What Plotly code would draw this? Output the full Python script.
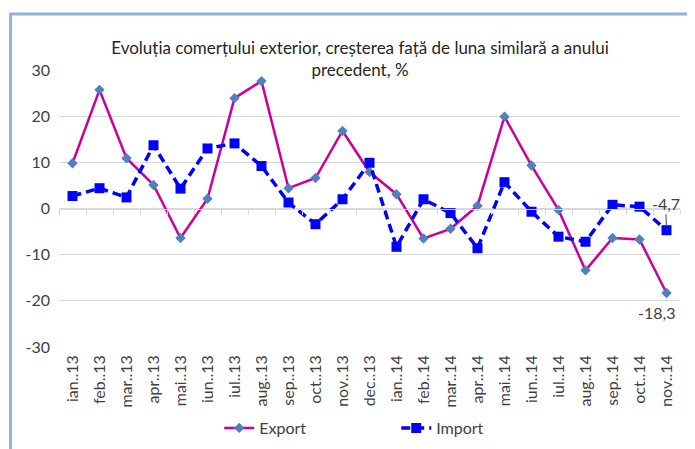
import plotly.graph_objects as go

# ==============================
# DATA
# ==============================
months = ["ian..13", "feb..13", "mar..13", "apr..13", "mai..13", "iun..13",
          "iul..13", "aug..13", "sep..13", "oct..13", "nov..13", "dec..13",
          "ian..14", "feb..14", "mar..14", "apr..14", "mai..14", "iun..14",
          "iul..14", "aug..14", "sep..14", "oct..14", "nov..14"]

export_vals = [9.8, 25.7, 10.9, 5.1, -6.4, 2.1, 23.9, 27.6, 4.4, 6.6, 16.8, 7.9,
               3.1, -6.5, -4.4, 0.6, 19.9, 9.3, -0.3, -13.4, -6.4, -6.7, -18.3]
import_vals = [2.7, 4.4, 2.4, 13.7, 4.3, 13.0, 14.1, 9.2, 1.3, -3.4, 2.0, 9.9,
               -8.3, 2.0, -1.0, -8.6, 5.7, -0.7, -6.1, -7.2, 0.8, 0.4, -4.7]

y_ticks = [-30, -20, -10, 0, 10, 20, 30]
y_tick_text = ["-30", "-20", "-10", "0", "10", "20", "30"]

font_name = "Lato, Liberation Sans, Arial"

# the page body has an 8px margin, so everything is laid out 8px up/left
fig = go.Figure()

fig.add_trace(go.Scatter(
    x=months, y=export_vals, name="Export", mode="lines+markers",
    line=dict(color="#CC0099", width=2.5),
    marker=dict(symbol="diamond", size=8, color="#4F81BD"),
))
fig.add_trace(go.Scatter(
    x=months, y=import_vals, name="Import", mode="lines+markers",
    line=dict(color="#0000FF", width=3.5, dash="9px,5px"),
    marker=dict(symbol="square", size=10, color="#0000FF"),
))

# ghost trace on second x-axis so the tick marks sit on the zero line
fig.add_trace(go.Scatter(x=months, y=[None] * len(months), xaxis="x2",
                         showlegend=False, hoverinfo="skip"))

# data labels for the last points
fig.add_annotation(x=months[-1], y=import_vals[-1], text="-4,7",
                   showarrow=True, arrowhead=0, arrowwidth=1, arrowcolor="#404040",
                   ax=-1, ay=-27, standoff=5,
                   font=dict(size=16, color="#404040", family=font_name))
fig.add_annotation(x=months[-1], y=export_vals[-1], text="-18,3",
                   showarrow=False, yshift=-20, xshift=-10,
                   font=dict(size=16, color="#404040", family=font_name))

# chart frame
fig.add_shape(type="rect", xref="paper", yref="paper",
              x0=-0.078, x1=1.02, y0=-0.42, y1=1.202,
              line=dict(color="#8EB4E3", width=3), layer="below")

fig.update_layout(
    width=695, height=449,
    margin=dict(l=50.5, r=22.5, t=62, b=110, autoexpand=False),
    paper_bgcolor="white", plot_bgcolor="white",
    font=dict(family=font_name, size=15, color="#404040"),
    title=dict(text="Evoluția comerțului exterior, creșterea față de luna similară a anului<br>precedent, %",
               x=352 / 695, xanchor="center", y=1 - 45.5 / 449, yanchor="middle",
               font=dict(size=17, color="#262626", family=font_name)),
    xaxis=dict(range=[-0.5, len(months) - 0.5], showgrid=False, showline=False,
               zeroline=False, ticks="", tickangle=-90, automargin=False,
               ticklabelstandoff=4,
               tickfont=dict(size=16, color="#404040")),
    xaxis2=dict(overlaying="x", anchor="free", position=0.5, matches="x",
                showticklabels=False, showgrid=False, showline=True,
                automargin=False,
                linecolor="#D9D9D9", ticks="outside", tickson="boundaries",
                ticklen=5, tickcolor="#D9D9D9"),
    yaxis=dict(range=[-30, 30], tickvals=y_ticks, ticktext=y_tick_text,
               showgrid=True, gridcolor="#D9D9D9", gridwidth=1, zeroline=False,
               showline=False, automargin=False, ticklabelstandoff=8,
               tickfont=dict(size=16, color="#404040")),
    legend=dict(orientation="h", x=0.258, xanchor="left",
                yref="container", y=1 - 420 / 449, yanchor="middle",
                font=dict(size=16),
                entrywidthmode="pixels", entrywidth=132),
    showlegend=True,
)

fig.write_html("out.html")
